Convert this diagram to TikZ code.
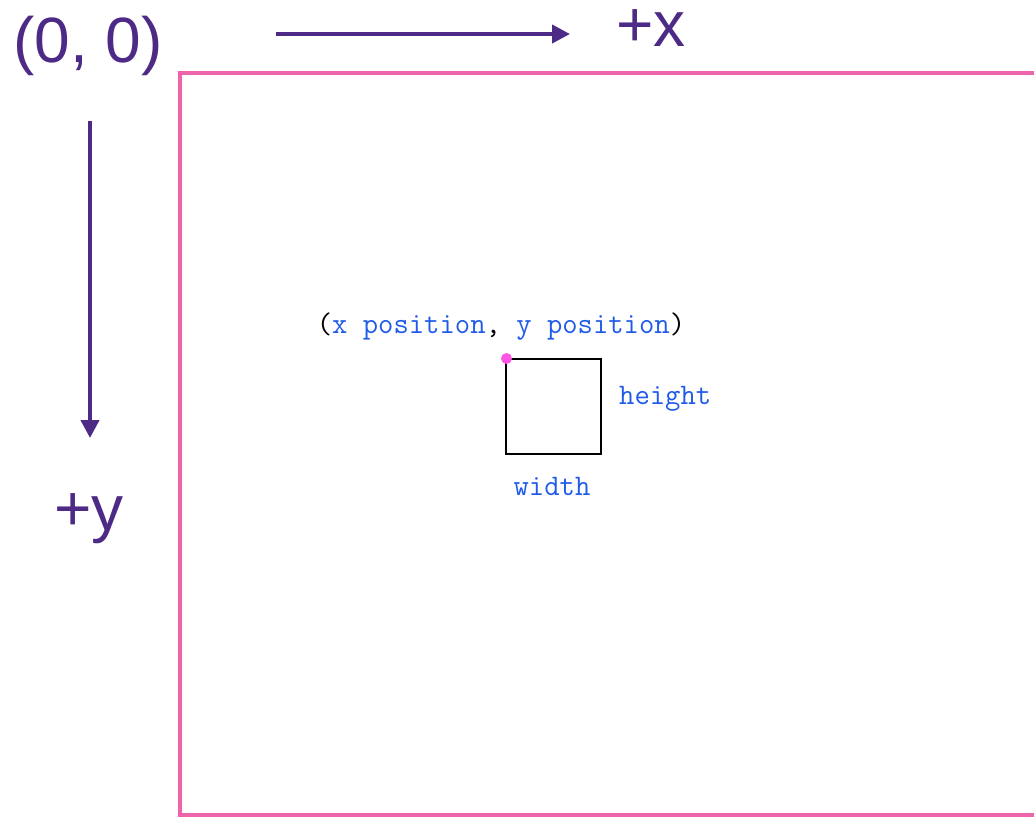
\documentclass[tikz,border=0pt]{standalone}
\usepackage{fontspec}
\setmainfont{Liberation Sans}
\usetikzlibrary{arrows.meta}
\definecolor{axispurple}{HTML}{4E2A87}
\definecolor{framepink}{HTML}{F064AC}
\definecolor{codeblue}{HTML}{1F5BE8}
\definecolor{dotpink}{HTML}{FF55E6}
\tikzset{
  axislabel/.style={text=axispurple, font=\fontsize{64}{66}\selectfont, inner sep=0pt},
  axisarrow/.style={draw=axispurple, line width=4pt, -{Triangle[length=18pt,width=18pt]}},
  codelabel/.style={text=codeblue, font=\ttfamily\fontsize{29.8}{31}\selectfont, inner sep=0pt},
}
\begin{document}
\begin{tikzpicture}[x=1pt,y=-1pt]
\useasboundingbox (0,0) rectangle (1034,817);
% canvas frame
\draw[framepink, line width=4pt] (1040,73) -- (180,73) -- (180,815) -- (1040,815);
% axes
\node[axislabel, anchor=center] (origin) at (88,46) {(0, 0)};
\coordinate (xs) at (276,34);
\coordinate (xe) at (570,34);
\draw[axisarrow] (xs) -- (xe);
\node[axislabel, anchor=base] (xlab) at (651,46) {+x};
\coordinate (ys) at (90,121);
\coordinate (ye) at (90,438);
\draw[axisarrow] (ys) -- (ye);
\node[axislabel, anchor=center] (ylab) at (89,519) {+y};
% rectangle
\node[draw=black, line width=1.8pt, minimum width=95pt, minimum height=95pt, inner sep=0pt, anchor=north west] (box) at (505,358) {};
\fill[dotpink] (box.north west) ++(1.5,0.5) circle (5.5pt);
\node[codelabel, anchor=center] (pos) at (501,327) {\textcolor{black}{(}x position\textcolor{black}{,} y position\textcolor{black}{)}};
\node[codelabel, anchor=west] (h) at (619,399) {height};
\node[codelabel, anchor=center] (w) at (552,486) {width};
\end{tikzpicture}
\end{document}
